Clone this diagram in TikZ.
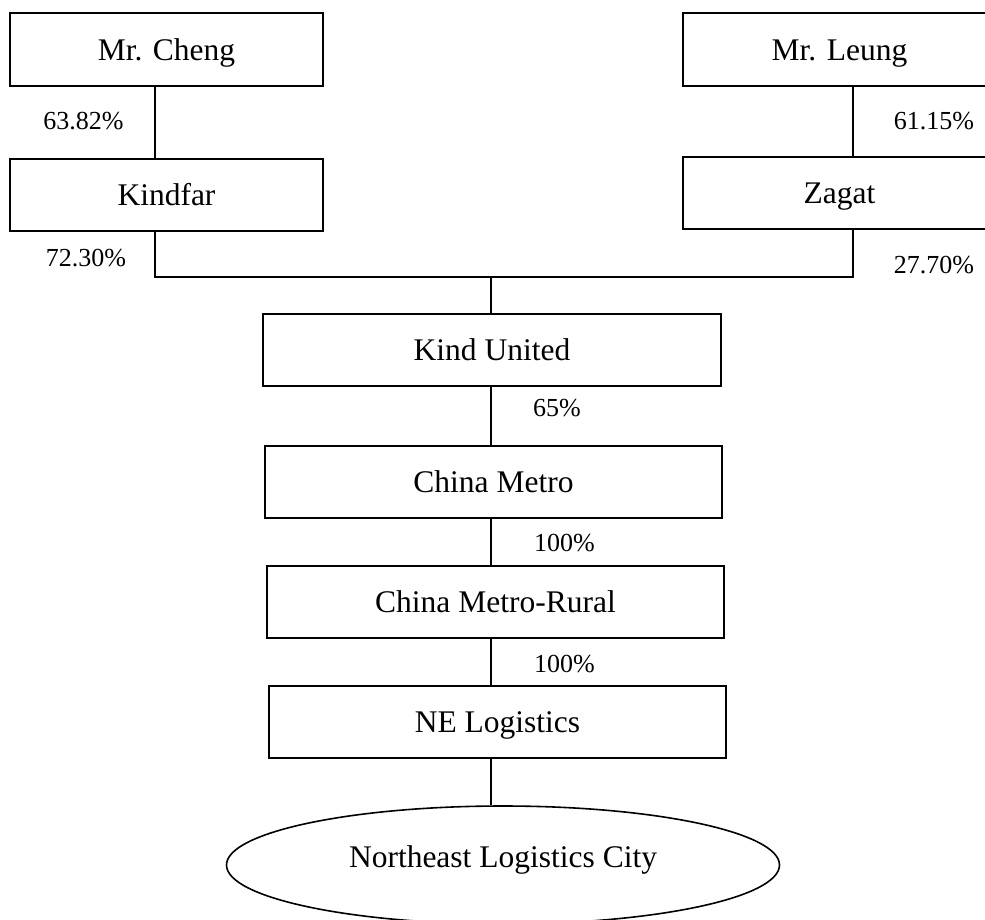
\documentclass[tikz,border=0pt]{standalone}
\usepackage{fontspec}
\setmainfont{Liberation Serif}
\usetikzlibrary{shapes.geometric}
\tikzset{
  orgbox/.style={draw, line width=1.6pt, inner sep=0pt, minimum width=#1,
    text height=21pt, text depth=0pt, font=\fontsize{31.5}{36}\selectfont},
  orgbox/.default=313pt,
  pct/.style={inner sep=0pt, font=\fontsize{26}{30}\selectfont},
  link/.style={line width=1.2pt},
}
\begin{document}
\begin{tikzpicture}[x=1pt,y=-1pt]
\clip (0,0) rectangle (985,919);
\fill[white] (0,0) rectangle (985,919);
% top boxes
\node[orgbox, minimum height=73pt] (cheng) at (166.5,49.5) {Mr. Cheng};
\node[orgbox, minimum height=72pt] (kindfar) at (166.5,195) {Kindfar};
\node[orgbox, minimum height=73pt] (leung) at (839.5,49.5) {Mr. Leung};
\node[orgbox, minimum height=72pt] (zagat) at (839.5,193) {Zagat};
% chain
\node[orgbox=458pt, minimum height=72pt] (ku) at (492,350) {Kind United};
\node[orgbox=457pt, minimum height=72pt] (cm) at (493.5,482) {China Metro};
\node[orgbox=457pt, minimum height=72pt] (cmr) at (495.5,602) {China Metro-Rural};
\node[orgbox=457pt, minimum height=72pt] (nel) at (497.5,722) {NE Logistics};
\node[draw, ellipse, line width=1.6pt, inner sep=0pt, minimum width=553pt, minimum height=118pt,
      text height=21pt, text depth=16pt,
      font=\fontsize{31.5}{36}\selectfont] (nlc) at (503,865) {Northeast Logistics City};
% coordinates
\coordinate (xl) at (155,0);
\coordinate (xr) at (853,0);
\coordinate (jl) at (155,277);
\coordinate (jr) at (853,277);
\coordinate (jm) at (491,277);
% connectors
\draw[link] (cheng.south -| xl) -- (kindfar.north -| xl);
\draw[link] (leung.south -| xr) -- (zagat.north -| xr);
\draw[link] (kindfar.south -| xl) -- (jl) -- (jr) -- (zagat.south -| xr);
\draw[link] (jm) -- (ku.north -| jm);
\draw[link] (ku.south -| jm) -- (cm.north -| jm);
\draw[link] (cm.south -| jm) -- (cmr.north -| jm);
\draw[link] (cmr.south -| jm) -- (nel.north -| jm);
\draw[link] (nel.south -| jm) -- (nlc.north -| jm);
% percentages
\node[pct] (p1) at (83.5,121) {63.82\%};
\node[pct] (p2) at (86,258) {72.30\%};
\node[pct] (p3) at (934,121) {61.15\%};
\node[pct] (p4) at (934,265) {27.70\%};
\node[pct] (p5) at (557,408.5) {65\%};
\node[pct] (p6) at (564.5,543) {100\%};
\node[pct] (p7) at (564.5,664) {100\%};
\end{tikzpicture}
\end{document}
